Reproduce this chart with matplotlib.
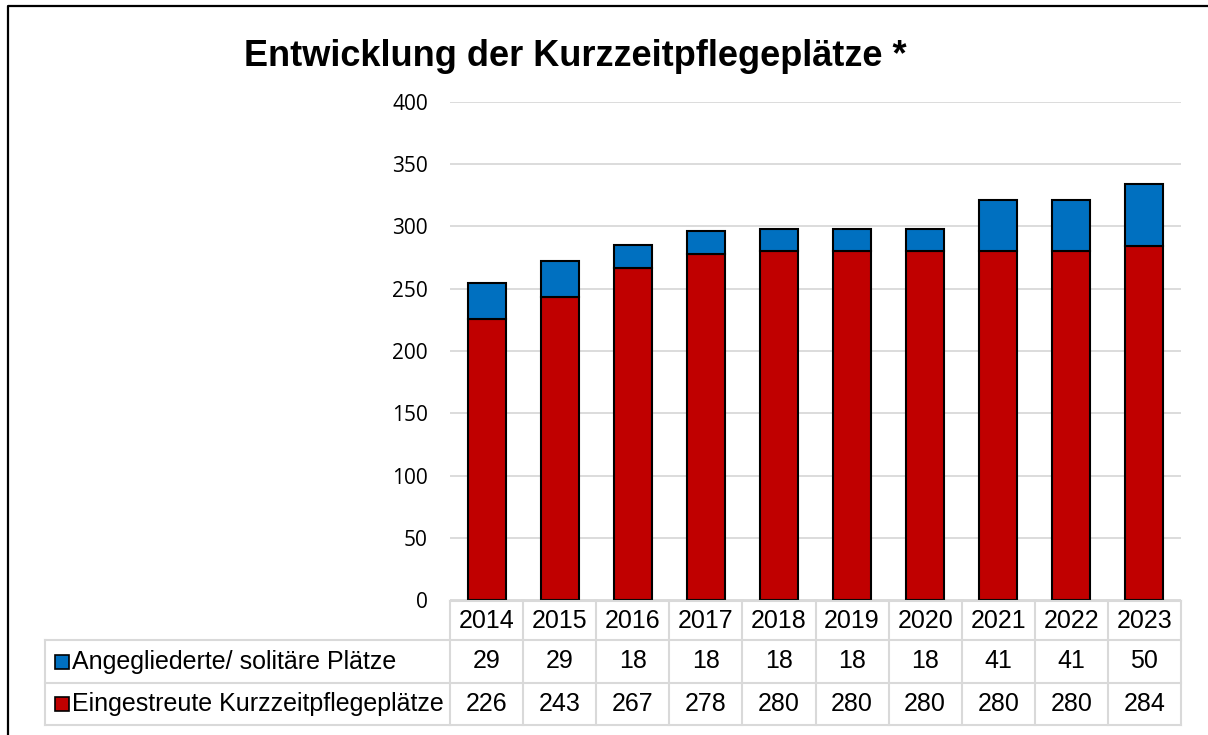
import numpy as np
import matplotlib
matplotlib.use('Agg')
import matplotlib.pyplot as plt
from matplotlib.lines import Line2D

years = ['2014', '2015', '2016', '2017', '2018', '2019', '2020', '2021', '2022', '2023']
eingestreut = [226, 243, 267, 278, 280, 280, 280, 280, 280, 284]
angegliedert = [29, 29, 18, 18, 18, 18, 18, 41, 41, 50]
serien = ['Angegliederte/ solitäre Plätze', 'Eingestreute Kurzzeitpflegeplätze']
titel = 'Entwicklung der Kurzzeitpflegeplätze *'

ROT = '#C00000'
BLAU = '#0070C0'
GRAU = '#d9d9d9'

W, H = 1208, 735
fig = plt.figure(figsize=(W / 100, H / 100), dpi=100)

def fx(px):
    return px / W

def fy(py):
    return 1 - py / H

# Rahmen (nur links und oben im Bild)
fig.lines.append(Line2D([fx(8), fx(8), 1.0], [0.0, fy(6), fy(6)],
                        transform=fig.transFigure, color='black', lw=1.6))

# Diagramm
L, R, T, B = 450, 1181, 102, 600
ax = fig.add_axes([fx(L), fy(B), fx(R) - fx(L), fy(T) - fy(B)])
x = np.arange(len(years))
ax.bar(x, eingestreut, width=0.52, color=ROT, edgecolor='black', linewidth=1.5, zorder=3)
ax.bar(x, angegliedert, width=0.52, bottom=eingestreut, color=BLAU, edgecolor='black',
       linewidth=1.5, zorder=3)
ax.set_xlim(-0.5, len(years) - 0.5)
ax.set_ylim(0, 400)
ax.set_yticks(range(0, 401, 50))
ax.set_xticks([])
ax.yaxis.grid(True, color=GRAU, lw=1.3, zorder=0)
ax.tick_params(axis='y', length=0, pad=16, labelsize=15)
for lab in ax.get_yticklabels():
    lab.set_fontfamily('Open Sans')
for s in ax.spines.values():
    s.set_visible(False)

fig.text(fx(575), fy(56), titel, ha='center', va='center', fontsize=26,
         fontweight='bold', family='Liberation Sans')

# Datentabelle
TL, TT, TB = 45, 601, 725
unit = (R - L) / len(years)
xl = -0.5 - (L - TL) / unit
tab = fig.add_axes([fx(TL), fy(TB), fx(R) - fx(TL), fy(TT) - fy(TB)])
tab.set_xlim(xl, len(years) - 0.5)
tab.set_ylim(TB, TT)
tab.axis('off')
rows = [TT, 640, 683, TB]
lk = dict(color=GRAU, lw=1.5, clip_on=False)
tab.plot([-0.5, len(years) - 0.5], [rows[0], rows[0]], **lk)
for r in rows[1:]:
    tab.plot([xl, len(years) - 0.5], [r, r], **lk)
for i in range(len(years) + 1):
    tab.plot([i - 0.5, i - 0.5], [rows[0], rows[-1]], **lk)
tab.plot([xl, xl], [rows[1], rows[-1]], **lk)

tk = dict(ha='center', va='center', fontsize=18, family='Liberation Sans')
mid = [(rows[k] + rows[k + 1]) / 2 for k in range(3)]
for i in range(len(years)):
    tab.text(i, mid[0], years[i], **tk)
    tab.text(i, mid[1], str(angegliedert[i]), **tk)
    tab.text(i, mid[2], str(eingestreut[i]), **tk)

mx = xl + (62 - TL) / unit
tx = xl + (72 - TL) / unit
for k, (name, col) in enumerate(zip(serien, [BLAU, ROT])):
    tab.plot([mx], [mid[k + 1]], marker='s', ms=9.5, mfc=col, mec='black', mew=1.2,
             clip_on=False)
    tab.text(tx, mid[k + 1], name, ha='left', va='center', fontsize=18,
             family='Liberation Sans')

fig.savefig('out.png', dpi=100)
